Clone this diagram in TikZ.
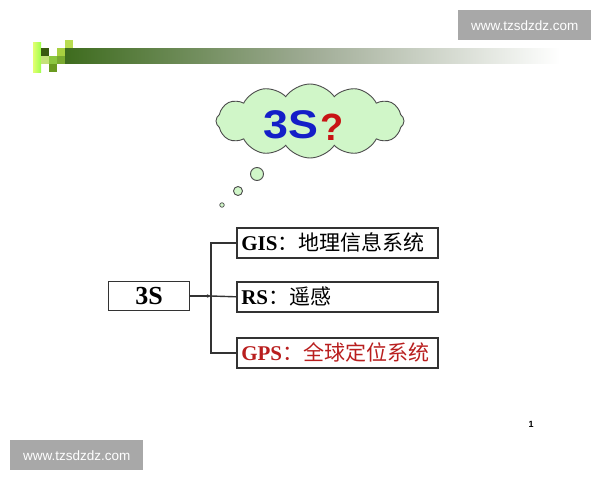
\documentclass[tikz,border=0pt]{standalone}
\usepackage{fontspec}
\setmainfont{Liberation Serif}
\setsansfont{Liberation Sans}
\newfontfamily\cjk{Noto Sans CJK SC}
\usetikzlibrary{shapes.symbols,arrows.meta}
\definecolor{cloudfill}{RGB}{208,246,200}
\definecolor{bluetxt}{RGB}{20,30,200}
\definecolor{redtxt}{RGB}{200,20,20}
\definecolor{gpsred}{RGB}{185,30,30}
\definecolor{wmgray}{RGB}{168,168,168}
\definecolor{bardark}{RGB}{62,108,30}
\definecolor{barmid}{RGB}{160,172,150}
\tikzset{
  item/.style={draw=black!80, line width=1.6pt, minimum width=201pt, minimum height=30pt, inner sep=0pt, anchor=north west, font=\fontsize{21}{21}\selectfont, text width=196pt, align=left},
  wm/.style={fill=wmgray, text=white, font=\sffamily\fontsize{13.5}{13.5}\selectfont, minimum width=133pt, minimum height=30pt, inner sep=0pt, anchor=north west},
  bub/.style={draw=black!70, fill=cloudfill, line width=0.9pt},
  conn/.style={draw=black!80, line width=1.4pt}
}
\begin{document}
\begin{tikzpicture}[x=1pt,y=-1pt]
\useasboundingbox (0,0) rectangle (600,480);
\fill[white] (0,0) rectangle (600,480);
% header bar
\shade[left color=bardark, right color=white, middle color=barmid] (65,48) rectangle (560,63);
% logo squares
\fill[left color=white!30!green!25!yellow!60, right color=green!55!yellow!70] (33,42) rectangle (41,72);
\fill[fill={rgb,255:red,58;green,90;blue,16}] (41,48) rectangle (49,56);
\fill[fill={rgb,255:red,196;green,226;blue,120}] (41,56) rectangle (49,64);
\fill[fill={rgb,255:red,140;green,198;blue,63}] (49,56) rectangle (57,64);
\fill[fill={rgb,255:red,106;green,154;blue,32}] (49,64) rectangle (57,72);
\fill[fill={rgb,255:red,168;green,208;blue,64}] (57,48) rectangle (65,56);
\fill[fill={rgb,255:red,122;green,170;blue,48}] (57,56) rectangle (65,64);
\fill[fill={rgb,255:red,184;green,220;blue,80}] (65,40) rectangle (73,48);
% watermarks
\node[wm] (wmtop) at (458,10) {www.tzsdzdz.com};
\node[wm] (wmbot) at (10,440) {www.tzsdzdz.com};
% cloud
\node[cloud, cloud puffs=12, cloud puff arc=110, aspect=2.6, draw=black!70, fill=cloudfill, line width=0.9pt, minimum width=188pt, minimum height=74pt, inner sep=0pt] (cloud) at (310,121) {};
\node[text=bluetxt, font=\sffamily\bfseries\fontsize{40}{40}\selectfont, inner sep=0pt] (q3s) at (291,125) {\scalebox{1.12}[1]{3S}};
\node[text=redtxt, font=\sffamily\bfseries\fontsize{38}{38}\selectfont, inner sep=0pt] (qm) at (332,127) {?};
\node[circle, bub, minimum size=13pt, inner sep=0pt] (b1) at (257,174) {};
\node[circle, bub, minimum size=9pt, inner sep=0pt] (b2) at (238,191) {};
\node[circle, bub, minimum size=4.5pt, inner sep=0pt, line width=0.7pt] (b3) at (222,205) {};
% boxes
\node[draw=black!80, line width=1.6pt, minimum width=81pt, minimum height=29pt, inner sep=0pt, font=\bfseries\fontsize{26}{26}\selectfont] (s3) at (149,296) {3S};
\node[item] (gis) at (236,227) {\hspace*{2pt}\textbf{GIS}{\cjk ：地理信息系统}};
\node[item] (rs) at (236,281) {\hspace*{2pt}\textbf{RS}{\cjk ：遥感}};
\node[item, text=gpsred] (gps) at (236,337) {\hspace*{2pt}\textbf{GPS}{\cjk ：全球定位系统}};
% connectors
\coordinate (j) at (211,296);
\draw[conn, -{Stealth[length=4pt,width=3.5pt]}] (s3.east) -- (j);
\draw[conn] (j) |- (gis.west);
\draw[conn] (j) -- (rs.west);
\draw[conn] (j) |- (gps.west);
% page number
\node[font=\sffamily\bfseries\fontsize{9}{9}\selectfont, inner sep=0pt] (pn) at (531,424) {1};
\end{tikzpicture}
\end{document}
